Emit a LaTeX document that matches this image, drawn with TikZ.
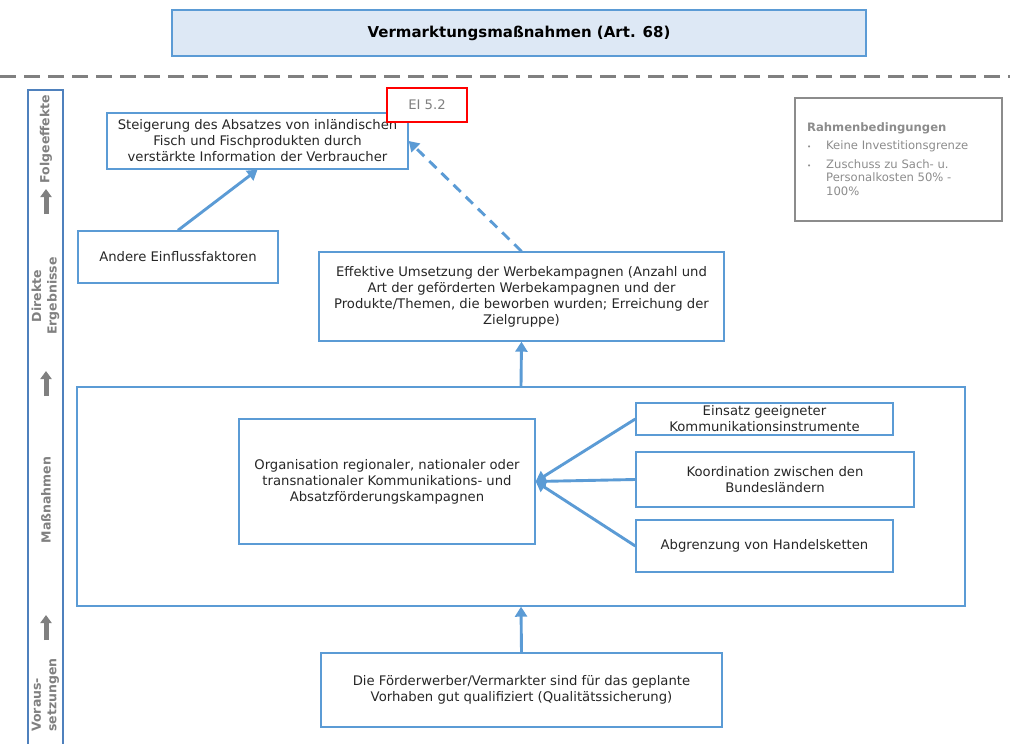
\documentclass[tikz,border=0pt]{standalone}
\usepackage{fontspec}
\setmainfont{DejaVu Sans}
\usetikzlibrary{arrows.meta}
\definecolor{accentblue}{HTML}{5B9BD5}
\definecolor{sideblue}{HTML}{4F81BD}
\definecolor{headfill}{HTML}{DDE8F5}
\definecolor{bodytext}{HTML}{262626}
\definecolor{labelgray}{HTML}{808080}
\definecolor{notegray}{HTML}{8C8C8C}
\definecolor{alertred}{HTML}{FF0000}
\begin{document}
\begin{tikzpicture}[x=1pt,y=-1pt,
  frame/.style={draw=accentblue,line width=1.4pt,inner sep=0pt,align=center,
    text=bodytext,font=\fontsize{13.2}{16}\selectfont},
  flow/.style={draw=accentblue,line width=2.9pt,-{Triangle[length=10pt,width=12pt]}},
  levelarrow/.style={draw=labelgray,line width=5pt,-{Triangle[length=8pt,width=11pt]}},
  levellabel/.style={rotate=90,text=labelgray,inner sep=0pt,
    font=\bfseries\fontsize{12.5}{15.5}\selectfont}]
\useasboundingbox (0,0) rectangle (1010,744);

% heading and separator
\node[frame,fill=headfill,line width=1.1pt,minimum width=694pt,minimum height=46pt,
  text=black,font=\bfseries\fontsize{15}{18}\selectfont] (title) at (519,33)
  {Vermarktungsmaßnahmen (Art. 68)};
\draw[labelgray,line width=3pt,dash pattern=on 16pt off 8pt] (0,76) -- (1010,76);

% level column on the left
\draw[sideblue,line width=1.2pt] (28,746) -- (28,90) -- (63,90) -- (63,746);
\node[levellabel] (lvlA) at (46,139) {Folgeeffekte};
\node[levellabel,align=center] (lvlB) at (45.5,296) {Direkte\\Ergebnisse};
\node[levellabel] (lvlC) at (46,500) {Maßnahmen};
\node[levellabel,align=left] (lvlD) at (45.5,695) {Voraus-\\setzungen};
\coordinate (upAs) at (46,214); \coordinate (upAe) at (46,189);
\coordinate (upBs) at (46,396); \coordinate (upBe) at (46,371);
\coordinate (upCs) at (46,640); \coordinate (upCe) at (46,615);
\draw[levelarrow] (upAs) -- (upAe);
\draw[levelarrow] (upBs) -- (upBe);
\draw[levelarrow] (upCs) -- (upCe);

% boxes
\node[frame,minimum width=301pt,minimum height=56pt] (steig) at (257.5,141)
  {Steigerung des Absatzes von inländischen\\Fisch und Fischprodukten durch\\verstärkte Information der Verbraucher};
\node[draw=alertred,line width=1.3pt,fill=white,minimum width=80pt,minimum height=34pt,
  inner sep=0pt,text=labelgray,font=\fontsize{13.2}{16}\selectfont] (ei) at (427,105) {EI 5.2};
\node[frame,minimum width=200pt,minimum height=52pt] (andere) at (178,257) {Andere Einflussfaktoren};
\node[frame,minimum width=405pt,minimum height=89pt] (effekt) at (521.5,296.5)
  {Effektive Umsetzung der Werbekampagnen (Anzahl und\\Art der geförderten Werbekampagnen und der\\Produkte/Themen, die beworben wurden; Erreichung der\\Zielgruppe)};
\node[frame,minimum width=888pt,minimum height=219pt] (massn) at (521,496.5) {};
\node[frame,minimum width=296pt,minimum height=125pt] (orga) at (387,481.5)
  {Organisation regionaler, nationaler oder\\transnationaler Kommunikations- und\\Absatzförderungskampagnen};
\node[frame,minimum width=257pt,minimum height=32pt] (einsatz) at (764.5,419)
  {Einsatz geeigneter\\Kommunikationsinstrumente};
\node[frame,minimum width=278pt,minimum height=55pt] (koord) at (775,479.5)
  {Koordination zwischen den\\Bundesländern};
\node[frame,minimum width=257pt,minimum height=52pt] (abgr) at (764.5,546)
  {Abgrenzung von Handelsketten};
\node[frame,minimum width=401pt,minimum height=74pt] (foerder) at (521.5,690)
  {Die Förderwerber/Vermarkter sind für das geplante\\Vorhaben gut qualifiziert (Qualitätssicherung)};

% framework conditions
\node[draw=notegray,line width=1.3pt,minimum width=207pt,minimum height=123pt,inner sep=0pt]
  (rbox) at (898.5,159.5) {};
\node[anchor=north west,inner sep=0pt,align=left,text=notegray,
  font=\fontsize{11.6}{13.5}\selectfont] (rtext) at (807,122)
  {{\bfseries Rahmenbedingungen}\\[5pt]
   \makebox[19pt][l]{\fontsize{7}{8}\selectfont•}Keine Investitionsgrenze\\[5pt]
   \makebox[19pt][l]{\fontsize{7}{8}\selectfont•}Zuschuss zu Sach- u.\\
   \hspace*{19pt}Personalkosten 50\% -\\
   \hspace*{19pt}100\%};

% connectors
\draw[flow] (andere.north) -- (steig.south);
\draw[flow,dash pattern=on 10pt off 7pt] (effekt.north) -- (steig.east);
\draw[flow] (massn.north) -- (effekt.south);
\draw[flow] (foerder.north) -- (massn.south);
\draw[flow] (einsatz.west) -- (orga.east);
\draw[flow] (koord.west) -- (orga.east);
\draw[flow] (abgr.west) -- (orga.east);
\end{tikzpicture}
\end{document}
